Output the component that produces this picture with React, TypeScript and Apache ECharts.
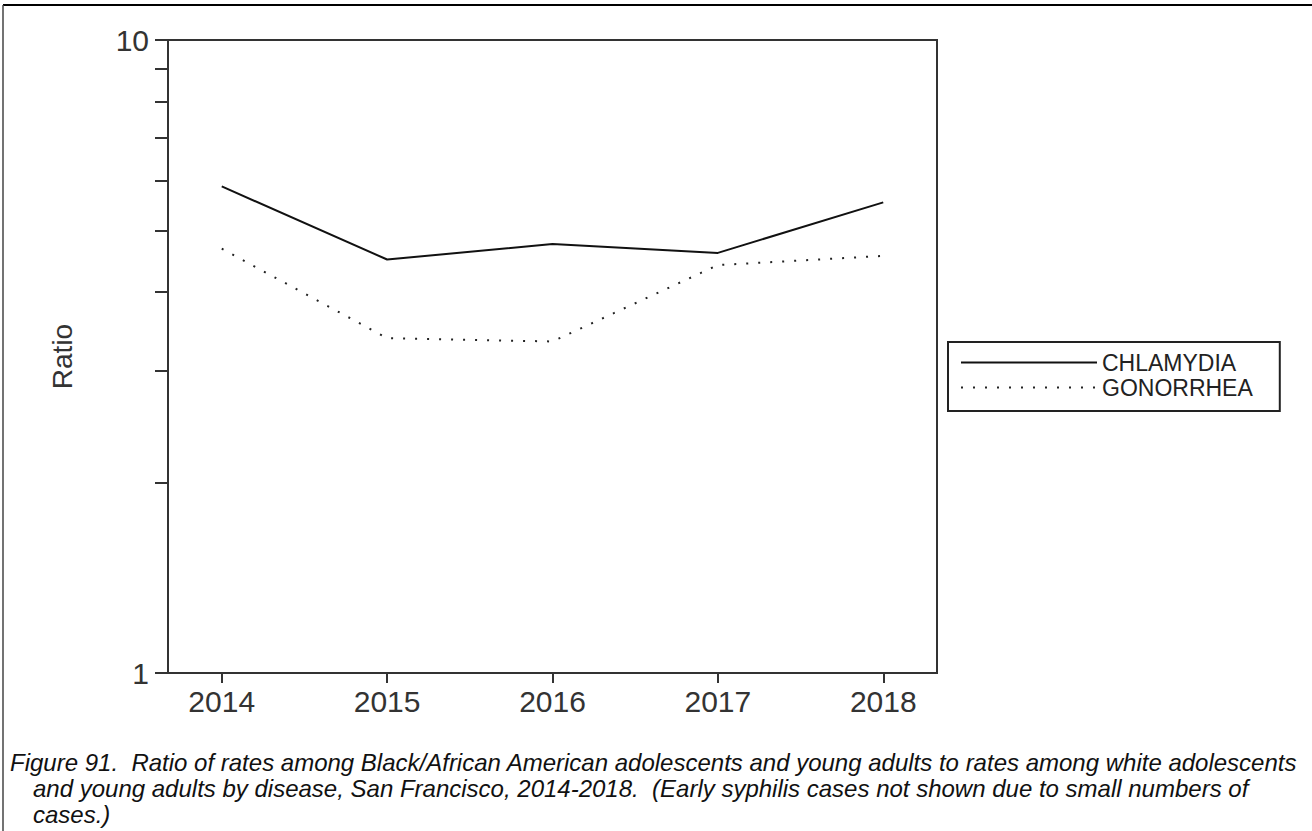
import React, { useEffect, useRef } from "react";
import * as echarts from "echarts";

const years = [2014, 2015, 2016, 2017, 2018];
const chlamydia = [5.87, 4.5, 4.76, 4.61, 5.54];
const gonorrhea = [4.68, 3.38, 3.34, 4.41, 4.56];
const yTickValues = [1, 2, 3, 4, 5, 6, 7, 8, 9, 10];
const yLabelValues = [1, 10];
const captionLines = [
  "Figure 91.  Ratio of rates among Black/African American adolescents and young adults to rates among white adolescents",
  "and young adults by disease, San Francisco, 2014-2018.  (Early syphilis cases not shown due to small numbers of",
  "cases.)",
];

const FONT = "'Liberation Sans', Arial, sans-serif";

export default function App() {
  const ref = useRef<HTMLDivElement>(null);
  useEffect(() => {
    if (!ref.current) return;
    const chart = echarts.init(ref.current, null, { renderer: "svg" });
    const toPairs = (vals: number[]) => years.map((y, i) => [y, vals[i]]);
    chart.setOption({
      animation: false,
      backgroundColor: "#fff",
      textStyle: { fontFamily: FONT },
      grid: {
        left: 168,
        top: 40,
        width: 769,
        height: 633,
        show: true,
        borderColor: "#333",
        borderWidth: 2,
        backgroundColor: "transparent",
      },
      legend: {
        orient: "vertical",
        left: 948,
        top: 342,
        padding: [8, 27, 11, 12],
        itemWidth: 136,
        itemHeight: 14,
        itemGap: 0,
        borderColor: "#222",
        borderWidth: 2,
        itemStyle: { opacity: 0, borderWidth: 0 },
        textStyle: { fontSize: 23, color: "#222", lineHeight: 25, fontFamily: FONT },
        data: ["CHLAMYDIA", "GONORRHEA"],
      },
      xAxis: {
        type: "value",
        min: 2013.675,
        max: 2018.325,
        axisLine: { lineStyle: { color: "#333", width: 2 } },
        axisTick: {
          customValues: years,
          length: 10,
          lineStyle: { color: "#333", width: 2 },
        },
        axisLabel: {
          customValues: years,
          fontSize: 30,
          color: "#333",
          margin: 13,
          fontFamily: FONT,
          formatter: (v: number) => String(v),
        },
        splitLine: { show: false },
      },
      yAxis: {
        type: "log",
        logBase: 10,
        min: 1,
        max: 10,
        name: "Ratio",
        nameLocation: "middle",
        nameGap: 92,
        nameTextStyle: { fontSize: 28, color: "#333", fontFamily: FONT },
        axisLine: { show: true, lineStyle: { color: "#333", width: 2 } },
        axisTick: {
          show: true,
          customValues: yTickValues,
          length: 13,
          lineStyle: { color: "#333", width: 2 },
        },
        axisLabel: {
          customValues: yLabelValues,
          fontSize: 30,
          color: "#333",
          margin: 19,
          fontFamily: FONT,
          formatter: (v: number) => String(v),
        },
        splitLine: { show: false },
        minorTick: { show: false },
      },
      series: [
        {
          name: "CHLAMYDIA",
          type: "line",
          data: toPairs(chlamydia),
          symbol: "none",
          lineStyle: { color: "#111", width: 2 },
          itemStyle: { color: "#111" },
        },
        {
          name: "GONORRHEA",
          type: "line",
          data: toPairs(gonorrhea),
          symbol: "none",
          lineStyle: { color: "#222", width: 2, type: [2, 10] },
          itemStyle: { color: "#222" },
        },
      ],
      graphic: [
        { type: "line", shape: { x1: 3, y1: 5, x2: 1312, y2: 5 }, style: { stroke: "#000", lineWidth: 2 } },
        { type: "line", shape: { x1: 3, y1: 5, x2: 3, y2: 831 }, style: { stroke: "#444", lineWidth: 1.5 } },
        {
          type: "text",
          left: 10,
          top: 750,
          style: { text: captionLines[0], font: `italic 24px ${FONT}`, fill: "#111" },
        },
        {
          type: "text",
          left: 33,
          top: 776,
          style: { text: captionLines[1], font: `italic 24px ${FONT}`, fill: "#111" },
        },
        {
          type: "text",
          left: 33,
          top: 802,
          style: { text: captionLines[2], font: `italic 24px ${FONT}`, fill: "#111" },
        },
      ],
    });
    return () => chart.dispose();
  }, []);
  return (
    <div
      ref={ref}
      style={{ position: "fixed", left: 0, top: 0, width: 1312, height: 831 }}
    />
  );
}
